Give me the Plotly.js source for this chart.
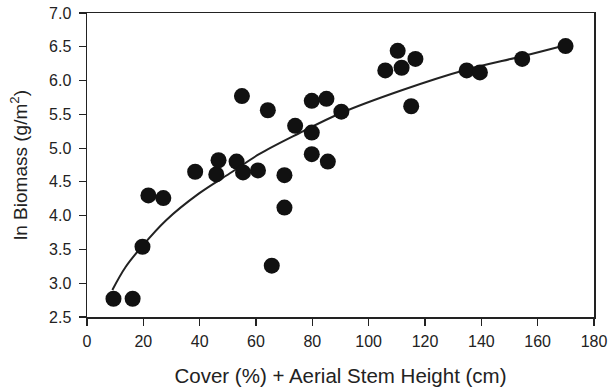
<!DOCTYPE html>
<html>
<head>
<meta charset="utf-8">
<script src="https://cdn.plot.ly/plotly-3.0.1.min.js"></script>
<style>html,body{margin:0;padding:0;background:#fff;}#chart{width:609px;height:390px;}</style>
</head>
<body>
<div id="chart"></div>
<script>
// Observed points: cover (%) + aerial stem height (cm) vs ln biomass
const coverHeight = [9.4, 16.2, 19.7, 21.8, 27.1, 38.4, 45.9, 46.7, 53.1, 55.0, 55.4, 60.7,
  64.2, 65.6, 70.1, 70.1, 73.9, 79.8, 79.8, 79.8, 85.0, 85.5, 90.3, 105.9, 110.3, 111.7,
  115.1, 116.6, 134.8, 139.5, 154.5, 169.9];
const lnBiomass = [2.77, 2.77, 3.54, 4.30, 4.26, 4.65, 4.61, 4.82, 4.80, 5.77, 4.64, 4.67,
  5.56, 3.26, 4.60, 4.12, 5.33, 5.70, 5.23, 4.91, 5.73, 4.80, 5.54, 6.15, 6.44, 6.19,
  5.62, 6.32, 6.15, 6.12, 6.32, 6.51];

// Fitted curve
const fitX = [9.0, 13.7, 19.4, 28.0, 39.8, 51.6, 61.1, 75.3, 90.2, 112.0, 134.6, 154.5, 169.5];
const fitY = [2.90, 3.24, 3.54, 3.93, 4.33, 4.65, 4.91, 5.22, 5.52, 5.86, 6.16, 6.36, 6.52];

const xTicks = [0, 20, 40, 60, 80, 100, 120, 140, 160, 180];
const yTicks = [2.5, 3.0, 3.5, 4.0, 4.5, 5.0, 5.5, 6.0, 6.5, 7.0];

const ink = '#222222';
const fontFam = 'Liberation Sans, Arial, sans-serif';

const traces = [
  {
    x: fitX, y: fitY, type: 'scatter', mode: 'lines',
    line: {color: ink, width: 2, shape: 'spline', smoothing: 1},
    hoverinfo: 'skip', showlegend: false
  },
  {
    x: coverHeight, y: lnBiomass, type: 'scatter', mode: 'markers',
    marker: {color: '#111111', size: 16, line: {width: 0}},
    showlegend: false
  }
];

const layout = {
  width: 609, height: 390,
  margin: {l: 87, r: 15, t: 13, b: 73},
  paper_bgcolor: '#ffffff', plot_bgcolor: '#ffffff',
  font: {family: fontFam, color: ink, size: 16},
  showlegend: false,
  xaxis: {
    range: [0, 180], tickvals: xTicks, ticktext: xTicks.map(String),
    ticks: 'outside', ticklen: 7, tickwidth: 1.2, tickcolor: ink,
    ticklabelstandoff: 2,
    showline: true, linecolor: ink, linewidth: 1.5, mirror: true,
    showgrid: false, zeroline: false,
    tickfont: {size: 16, color: ink},
    title: {text: 'Cover (%) + Aerial Stem Height (cm)', font: {size: 20.5, color: ink}, standoff: 20}
  },
  yaxis: {
    range: [2.5, 7.0], tickvals: yTicks, ticktext: yTicks.map(v => v.toFixed(1)),
    ticks: 'outside', ticklen: 7, tickwidth: 1.2, tickcolor: ink,
    ticklabelstandoff: 4,
    showline: true, linecolor: ink, linewidth: 1.5, mirror: true,
    showgrid: false, zeroline: false,
    tickfont: {size: 16, color: ink},
    title: {text: 'ln Biomass (g/m<sup>2</sup>)', font: {size: 19, color: ink}, standoff: 16}
  }
};

Plotly.newPlot('chart', traces, layout, {displayModeBar: false, staticPlot: true});
</script>
</body>
</html>
